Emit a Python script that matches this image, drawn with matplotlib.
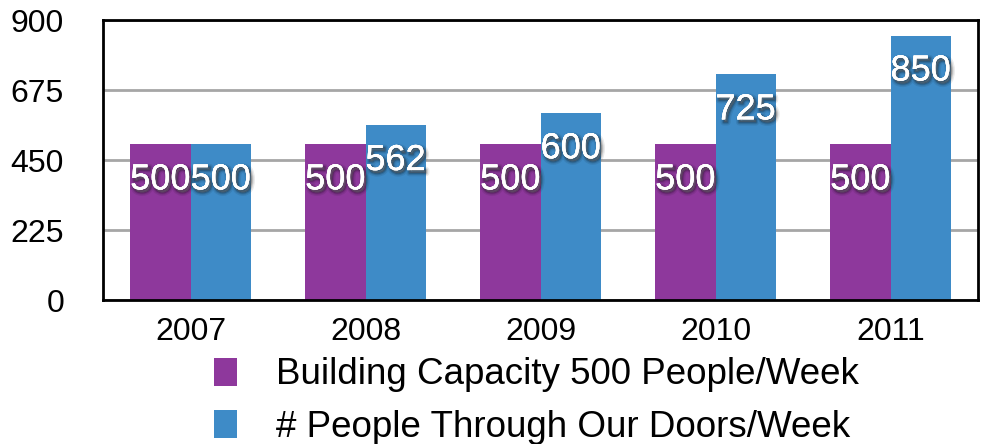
import matplotlib
matplotlib.use("Agg")
import matplotlib.pyplot as plt
import matplotlib.patheffects as pe
from matplotlib.patches import Patch
import numpy as np

years = ["2007", "2008", "2009", "2010", "2011"]
capacity = [500, 500, 500, 500, 500]
people = [500, 562, 600, 725, 850]
series_names = ["Building Capacity 500 People/Week", "# People Through Our Doors/Week"]
yticks = [0, 225, 450, 675, 900]

purple = "#8E389C"
blue = "#3E8BC7"

plt.rcParams['font.family'] = ['Liberation Sans', 'DejaVu Sans']

fig = plt.figure(figsize=(9.87, 4.44), dpi=100)
ax = fig.add_axes([103/987, 1-300/444, (978-103)/987, (300-20)/444])

x = np.arange(len(years))
w = 0.345
b1 = ax.bar(x - w/2, capacity, w, color=purple, zorder=2)
b2 = ax.bar(x + w/2, people, w, color=blue, zorder=2)

shadow = [pe.withStroke(linewidth=lw, foreground='black', alpha=a, offset=(1.5, -2))
          for lw, a in ((5, 0.08), (3, 0.12), (1.5, 0.18))]
shadow += [pe.withSimplePatchShadow(offset=(1.5, -2), shadow_rgbFace='black', alpha=0.3), pe.Normal()]
for bars, vals in ((b1, capacity), (b2, people)):
    for r, v in zip(bars, vals):
        ax.annotate(str(v), xy=(r.get_x() + r.get_width()/2, v), xytext=(0, -25.5),
                    textcoords='offset points', ha='center', va='center',
                    fontsize=26, color='white', zorder=5, path_effects=shadow)

ax.set_xlim(-0.5, len(years) - 0.5)
ax.set_ylim(0, 900)
ax.set_yticks(yticks)
ax.set_yticklabels([str(t) for t in yticks])
ax.set_xticks(x)
ax.set_xticklabels(years)
ax.tick_params(axis='y', length=0, pad=28, labelsize=23)
ax.tick_params(axis='x', length=0, pad=12, labelsize=23)
ax.yaxis.grid(True, color='#A6A6A6', linewidth=2, zorder=0)
ax.set_axisbelow(True)
for s in ax.spines.values():
    s.set_linewidth(2)
    s.set_color('black')

handles = [Patch(facecolor=purple, edgecolor='none'), Patch(facecolor=blue, edgecolor='none')]
fig.legend(handles, series_names, loc='upper left', bbox_to_anchor=(196/987, 1-339/444),
           frameon=False, fontsize=26.5, handlelength=0.62, handleheight=0.8,
           handletextpad=1.05, labelspacing=0.48, borderpad=0)

fig.savefig("out.png", dpi=100)
